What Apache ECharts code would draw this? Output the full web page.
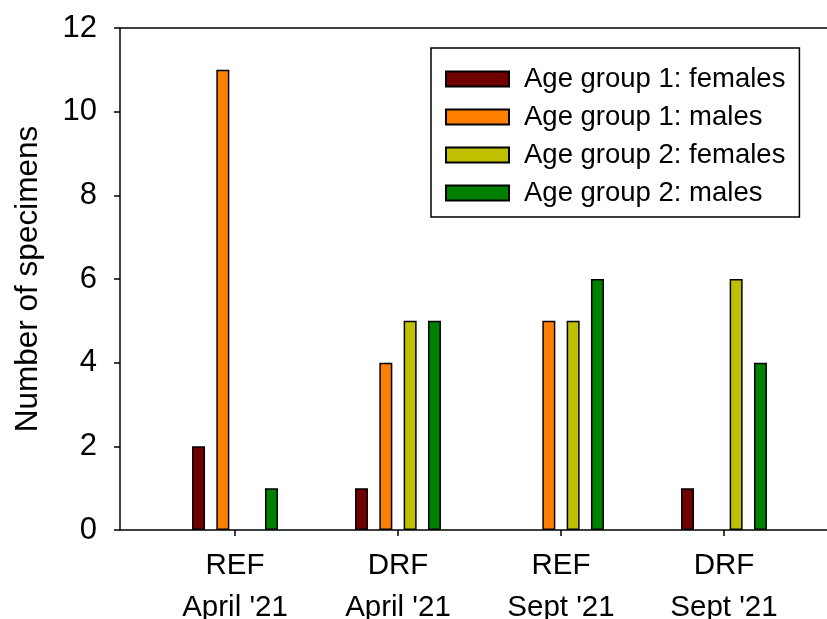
<!DOCTYPE html>
<html>
<head>
<meta charset="utf-8">
<script src="https://cdn.jsdelivr.net/npm/echarts@6/dist/echarts.min.js"></script>
<style>html,body{margin:0;padding:0;background:#fff;}#c{width:827px;height:619px;}</style>
</head>
<body>
<div id="c"></div>
<script>
var categories = ["REF\nApril '21", "DRF\nApril '21", "REF\nSept '21", "DRF\nSept '21"];
var seriesNames = ["Age group 1: females", "Age group 1: males", "Age group 2: females", "Age group 2: males"];
var ag1Females = [2, 1, 0, 1];
var ag1Males = [11, 4, 5, 0];
var ag2Females = [0, 5, 5, 6];
var ag2Males = [1, 5, 6, 4];
var colors = ["#700000", "#FF8000", "#C0C000", "#008000"];
var yTicks = [0, 2, 4, 6, 8, 10, 12];

var FONT = "'Liberation Sans', Arial, sans-serif";
var positions = [1, 2, 3, 4];
var allData = [ag1Females, ag1Males, ag2Females, ag2Males];

var series = allData.map(function (vals, i) {
  return {
    name: seriesNames[i],
    type: 'bar',
    barWidth: 13,
    barGap: '87%',
    itemStyle: { color: colors[i], borderColor: '#000', borderWidth: 1.5 },
    data: vals.map(function (v, j) { return [positions[j], v === 0 ? '-' : v]; })
  };
});

var xMin = 0.2945, xMax = 4.632;
var chart = echarts.init(document.getElementById('c'));
chart.setOption({
  animation: false,
  textStyle: { fontFamily: FONT, color: '#000' },
  grid: { left: 120, right: 0, top: 28, bottom: 89, containLabel: false, outerBoundsMode: 'none' },
  legend: {
    left: 431, top: 48,
    orient: 'vertical',
    backgroundColor: '#fff',
    borderColor: '#000', borderWidth: 1.5,
    padding: [17, 14, 10, 14],
    itemWidth: 63, itemHeight: 15, itemGap: 10,
    icon: 'rect',
    textStyle: { fontFamily: FONT, fontSize: 27.5, color: '#000', lineHeight: 28, padding: [0, 0, 0, 10] },
    data: seriesNames
  },
  xAxis: [{
    type: 'value', min: xMin, max: xMax, position: 'bottom',
    splitLine: { show: false },
    axisLine: { show: true, lineStyle: { color: '#000', width: 1.5 } },
    axisTick: { show: true, length: 6, lineStyle: { color: '#000', width: 1.5 }, customValues: positions },
    axisLabel: {
      customValues: positions, margin: 15, fontSize: 29.5, lineHeight: 42, color: '#000', fontFamily: FONT,
      formatter: function (v) { var i = positions.indexOf(v); return i >= 0 ? categories[i] : ''; }
    }
  }, {
    type: 'value', min: xMin, max: xMax, position: 'top',
    splitLine: { show: false },
    axisLine: { show: true, lineStyle: { color: '#000', width: 1.5 } },
    axisTick: { show: false }, axisLabel: { show: false }
  }],
  yAxis: {
    type: 'value', min: 0, max: 12, interval: 2,
    name: 'Number of specimens', nameLocation: 'middle', nameGap: 76, nameRotate: 90,
    nameTextStyle: { fontSize: 31.5, color: '#000', fontFamily: FONT },
    splitLine: { show: false },
    axisLine: { show: true, lineStyle: { color: '#000', width: 1.5 } },
    axisTick: { show: true, length: 6, lineStyle: { color: '#000', width: 1.5 } },
    axisLabel: { margin: 23, fontSize: 31, color: '#000', fontFamily: FONT,
      formatter: function (v) { return yTicks.indexOf(v) >= 0 ? String(v) : ''; } }
  },
  series: series
});
</script>
</body>
</html>
